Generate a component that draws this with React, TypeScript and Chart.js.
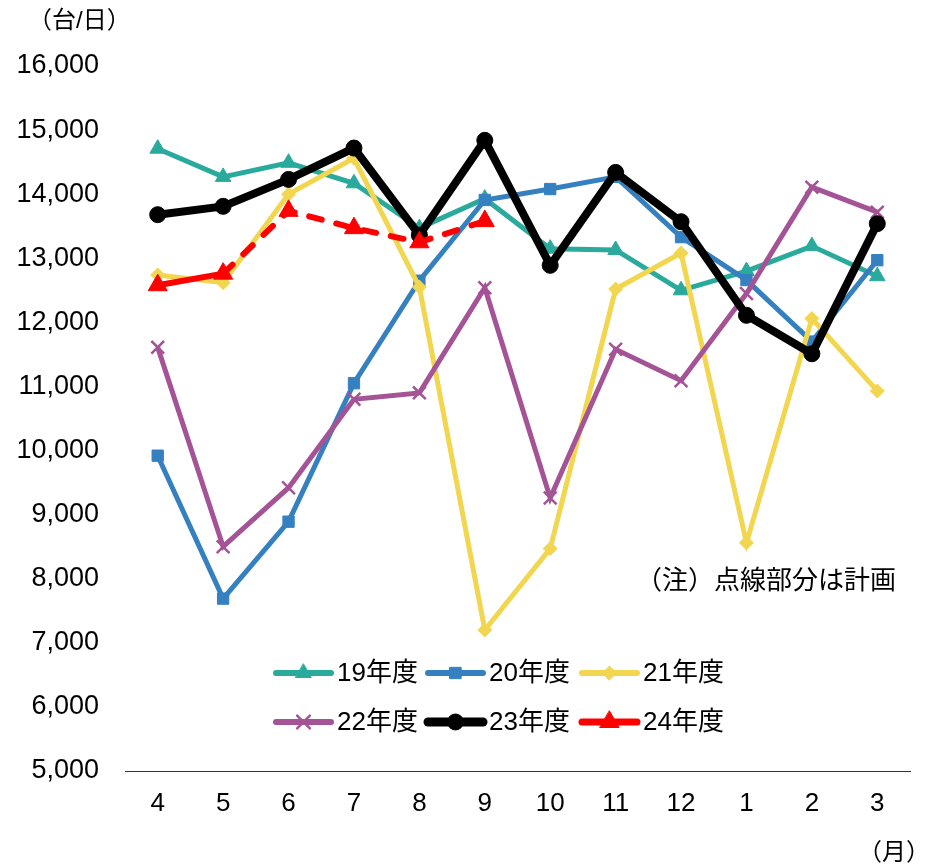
import React, { useEffect, useRef } from 'react';
import { Chart, registerables } from 'chart.js';
import { drawPoint } from 'chart.js/helpers';

Chart.register(...registerables);

const months = ['4', '5', '6', '7', '8', '9', '10', '11', '12', '1', '2', '3'];
const fy19 = [14710, 14270, 14490, 14170, 13470, 13930, 13150, 13130, 12500, 12800, 13190, 12720];
const fy20 = [9920, 7690, 8890, 11050, 12650, 13910, 14080, 14270, 13330, 12660, 11700, 12970];
const fy21 = [12740, 12620, 14000, 14560, 12550, 7200, 8470, 12520, 13080, 8560, 12060, 10930];
const fy22 = [11610, 8500, 9420, 10800, 10900, 12540, 9260, 11580, 11090, 12450, 14110, 13720];
const fy23 = [13680, 13810, 14230, 14720, 13360, 14840, 12890, 14340, 13570, 12110, 11510, 13540];
const fy24 = [12580, 12760, 13740, 13470, 13250, 13580, null, null, null, null, null, null];

const seriesLabels = ['19年度', '20年度', '21年度', '22年度', '23年度', '24年度'];
const yTicksMin = 5000;
const yTicksMax = 16000;
const yStep = 1000;
const unitLabel = '（台/日）';
const monthUnit = '（月）';
const noteText = '（注）点線部分は計画';

const FONT = "'Liberation Sans', Arial, 'Noto Sans CJK JP', sans-serif";

export default function App() {
  const ref = useRef<HTMLCanvasElement | null>(null);

  useEffect(() => {
    document.body.style.margin = '0';
    const canvas = ref.current;
    if (!canvas) return;

    const styles = [
      { color: '#2aaa9c', width: 5, point: 'triangle', radius: 9 },
      { color: '#3580c0', width: 5, point: 'rect', radius: 8 },
      { color: '#f2d64f', width: 5, point: 'rectRot', radius: 7 },
      { color: '#a45496', width: 5, point: 'crossRot', radius: 9 },
      { color: '#000000', width: 8, point: 'circle', radius: 8 },
      { color: '#ff0000', width: 6, point: 'triangle', radius: 11 },
    ];
    const seriesData = [fy19, fy20, fy21, fy22, fy23, fy24];

    const datasets: any[] = seriesData.map((d, i) => {
      const s = styles[i];
      const ds: any = {
        label: seriesLabels[i],
        data: d,
        borderColor: s.color,
        backgroundColor: s.color,
        borderWidth: s.width,
        pointStyle: s.point,
        pointRadius: s.radius,
        pointBorderWidth: s.point === 'crossRot' ? 2.5 : 1,
        pointBorderColor: s.color,
        pointBackgroundColor: s.color,
        tension: 0,
        order: 6 - i,
        spanGaps: false,
      };
      if (i === 5) {
        ds.borderCapStyle = 'round';
        ds.segment = {
          borderDash: (ctx: any) => (ctx.p0DataIndex >= 1 ? [13, 15] : undefined),
        };
      }
      return ds;
    });

    const overlay = {
      id: 'overlay',
      afterDraw(chart: any) {
        const ctx = chart.ctx;
        ctx.save();
        ctx.fillStyle = '#000';
        ctx.textBaseline = 'middle';
        ctx.textAlign = 'left';
        ctx.font = `24px ${FONT}`;
        ctx.fillText(unitLabel, 28, 21);
        ctx.font = `26px ${FONT}`;
        ctx.fillText(noteText, 636, 582);
        ctx.textAlign = 'right';
        ctx.font = `24px ${FONT}`;
        ctx.fillText(monthUnit, 930, 853);

        // legend
        const xs = [276, 428, 582];
        const ys = [673, 722];
        const lineLen = 55;
        ctx.font = `26px ${FONT}`;
        ctx.textAlign = 'left';
        for (let i = 0; i < seriesLabels.length; i++) {
          const s = styles[i];
          const x = xs[i % 3];
          const y = ys[Math.floor(i / 3)];
          ctx.save();
          ctx.strokeStyle = s.color;
          ctx.lineWidth = s.width + 1;
          ctx.lineCap = 'round';
          ctx.beginPath();
          ctx.moveTo(x, y);
          ctx.lineTo(x + lineLen, y);
          ctx.stroke();
          ctx.fillStyle = s.color;
          ctx.lineWidth = s.point === 'crossRot' ? 2.5 : 1;
          drawPoint(ctx, { pointStyle: s.point, radius: s.radius, rotation: 0, borderWidth: ctx.lineWidth }, x + lineLen / 2, y);
          ctx.restore();
          ctx.fillStyle = '#000';
          ctx.fillText(seriesLabels[i], x + lineLen + 6, y + 1);
        }
        ctx.restore();
      },
    };

    const chart = new Chart(canvas, {
      type: 'line',
      data: { labels: months, datasets },
      options: {
        animation: false,
        responsive: false,
        devicePixelRatio: 1,
        layout: { padding: { top: 66, right: 20, bottom: 45, left: 0 } },
        plugins: {
          legend: { display: false },
          tooltip: { enabled: false },
          title: { display: false },
        },
        scales: {
          x: {
            offset: true,
            grid: { display: false, drawTicks: false },
            border: { display: true, color: '#333', width: 1 },
            ticks: { color: '#000', font: { family: FONT, size: 26 }, padding: 17, maxRotation: 0, autoSkip: false },
            afterFit: (scale: any) => { scale.height = 50; },
          },
          y: {
            min: yTicksMin,
            max: yTicksMax,
            grid: { display: false, drawTicks: false },
            border: { display: false },
            ticks: {
              stepSize: yStep,
              color: '#000',
              font: { family: FONT, size: 27 },
              padding: 26,
              callback: (v: any) => Number(v).toLocaleString('en-US'),
            },
            afterFit: (scale: any) => { scale.width = 125; },
          },
        },
      },
      plugins: [overlay],
    });

    return () => chart.destroy();
  }, []);

  return <canvas ref={ref} width={930} height={866} style={{ display: 'block', width: 930, height: 866 }} />;
}
